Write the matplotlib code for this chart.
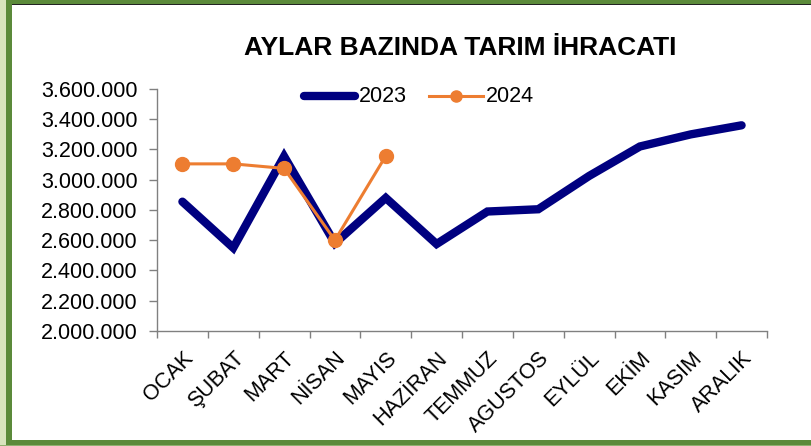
import matplotlib
matplotlib.use("Agg")
import matplotlib.pyplot as plt
from matplotlib.patches import Rectangle
from matplotlib.ticker import FuncFormatter, FixedLocator
from matplotlib.lines import Line2D

months = ["OCAK", "ŞUBAT", "MART", "NİSAN", "MAYIS", "HAZİRAN", "TEMMUZ",
          "AGUSTOS", "EYLÜL", "EKİM", "KASIM", "ARALIK"]
exp_2023 = [2855000, 2550000, 3155000, 2580000, 2880000, 2575000, 2790000,
            2805000, 3025000, 3220000, 3300000, 3360000]
exp_2024 = [3105000, 3105000, 3075000, 2600000, 3157000]
series_names = ["2023", "2024"]
title = "AYLAR BAZINDA TARIM İHRACATI"

plt.rcParams['font.family'] = ['Liberation Sans', 'DejaVu Sans']

W, H = 811, 446
fig = plt.figure(figsize=(W / 100, H / 100), dpi=100)
fig.patch.set_facecolor("white")

def rect(x0, y0, x1, y1, color):
    fig.add_artist(Rectangle((x0 / W, 1 - y1 / H), (x1 - x0) / W, (y1 - y0) / H,
                             transform=fig.transFigure, facecolor=color,
                             edgecolor="none", zorder=10))

light = "#d8e4bd"
dark = "#5b8a3a"
rect(0, 0, 6, H, light)
rect(6, 0, W, 4, dark)
rect(6, 0, 12, H, dark)
rect(6, 440, W, 446, dark)
rect(0, 445, W, 446, "#8fb070")
rect(12, 4, W, 5, "#222222")

NAVY = "#000080"
ORANGE = "#ED7D31"

ax = fig.add_axes([157 / W, 1 - 331 / H, (767 - 157) / W, (331 - 89) / H])
x = list(range(len(months)))
ax.plot(x, exp_2023, color=NAVY, lw=6, solid_capstyle="round",
        solid_joinstyle="miter", zorder=2)
ax.plot(x[:len(exp_2024)], exp_2024, color=ORANGE, lw=2.2, marker="o",
        markersize=10, zorder=3)

ax.set_xlim(-0.5, len(months) - 0.5)
ax.set_ylim(2000000, 3600000)
ax.set_yticks(range(2000000, 3600001, 200000))
ax.yaxis.set_major_formatter(FuncFormatter(lambda v, p: f"{int(v):,}".replace(",", ".")))
ax.set_xticks(x)
ax.set_xticklabels(months, rotation=45, ha="right", rotation_mode="anchor")
ax.xaxis.set_minor_locator(FixedLocator([i - 0.5 for i in range(len(months) + 1)]))
ax.tick_params(axis="x", which="major", length=0, pad=12, labelsize=15.5)
ax.tick_params(axis="x", which="minor", length=5, color="#808080", width=1)
ax.tick_params(axis="y", length=6, color="#808080", width=1, labelsize=15.5, pad=8)
for s in ["top", "right"]:
    ax.spines[s].set_visible(False)
for s in ["left", "bottom"]:
    ax.spines[s].set_color("#808080")
    ax.spines[s].set_linewidth(1)

fig.text(460 / W, 1 - 48 / H, title, ha="center", va="center",
         fontsize=19, fontweight="bold")

# legend drawn manually
ly = 1 - 96 / H
fig.add_artist(Line2D([304 / W, 355 / W], [ly, ly], transform=fig.transFigure,
                      color=NAVY, lw=6, solid_capstyle="round"))
fig.text(359 / W, ly, series_names[0], ha="left", va="center", fontsize=15.5)
fig.add_artist(Line2D([429 / W, 483 / W], [ly, ly], transform=fig.transFigure,
                      color=ORANGE, lw=2.2))
fig.add_artist(Line2D([456 / W], [ly], transform=fig.transFigure,
                      color=ORANGE, marker="o", markersize=8, lw=0))
fig.text(486 / W, ly, series_names[1], ha="left", va="center", fontsize=15.5)

fig.savefig("out.png", dpi=100)
